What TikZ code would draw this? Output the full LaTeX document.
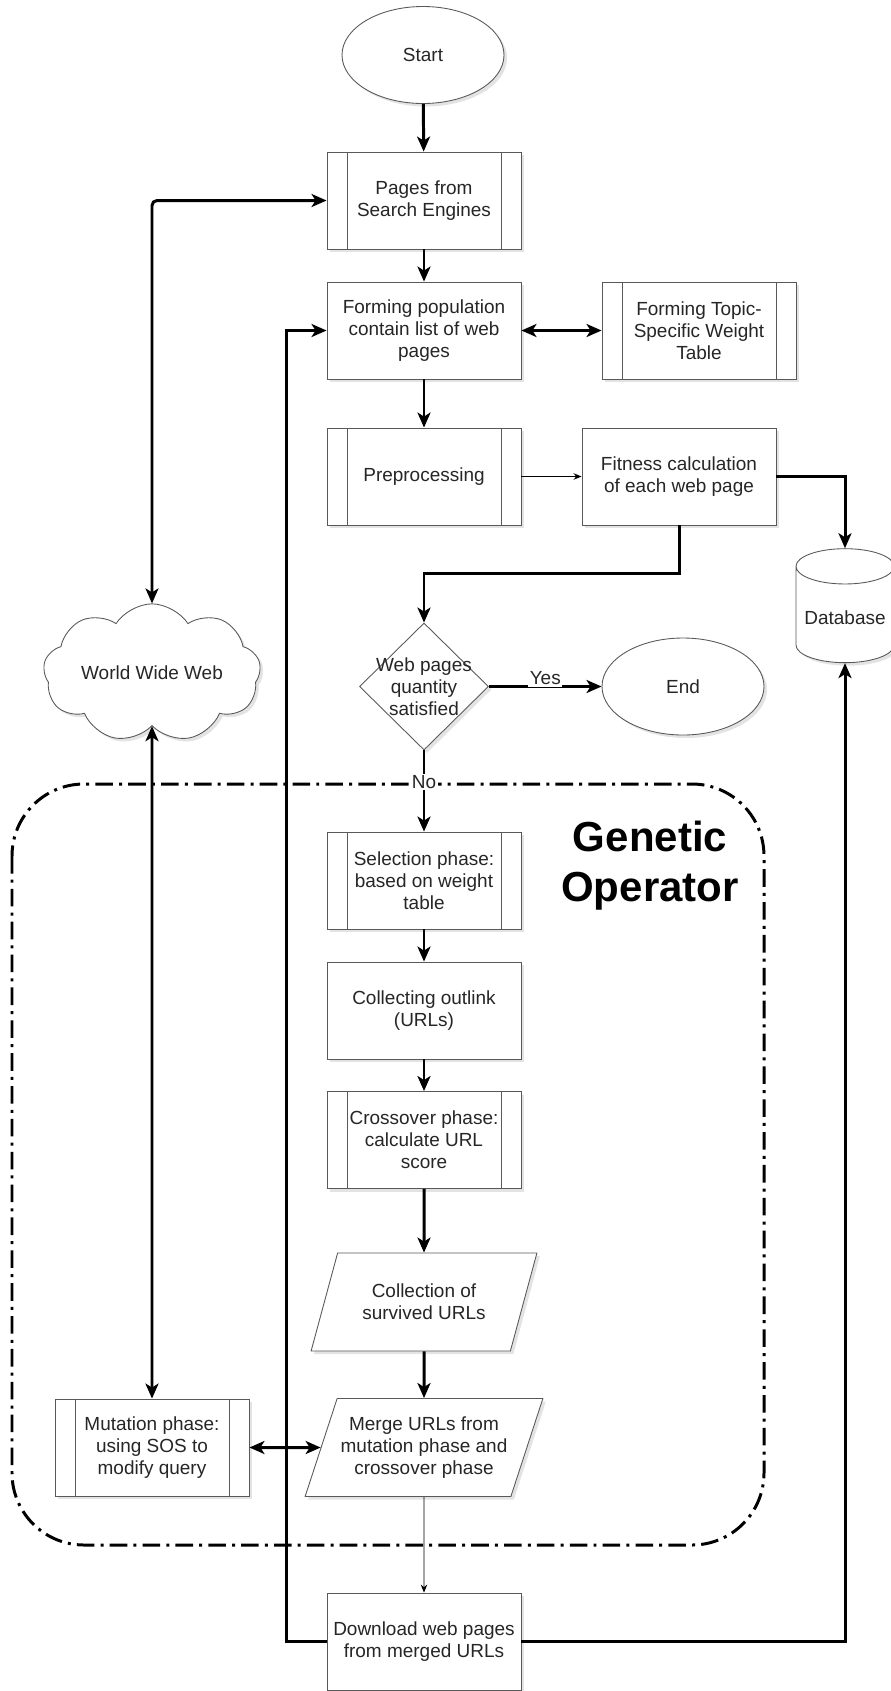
\documentclass[tikz,border=0pt]{standalone}
\usepackage{fontspec}
\setmainfont{Liberation Sans}
\usetikzlibrary{positioning,arrows.meta,shapes.geometric,shapes.symbols,shadows}

\begin{document}
\begin{tikzpicture}[
  font=\fontsize{10.8}{12.5}\selectfont,
  text=black!85,
  >={Stealth[length=0.3cm,width=0.26cm,inset=0.08cm]},
  box/.style={rectangle, draw=black!65, line width=0.5pt, fill=white, align=center,
              minimum width=3.88cm, minimum height=1.94cm, inner sep=2pt,
              drop shadow={shadow xshift=0.06cm, shadow yshift=-0.06cm, opacity=0.22}},
  sub/.style={box, path picture={
      \draw[draw=black!65, line width=0.5pt]
        ([xshift=0.4cm]path picture bounding box.north west) -- ([xshift=0.4cm]path picture bounding box.south west)
        ([xshift=-0.4cm]path picture bounding box.north east) -- ([xshift=-0.4cm]path picture bounding box.south east);}},
  term/.style={box, ellipse, minimum width=3.24cm, minimum height=1.94cm},
  io/.style={box, trapezium, trapezium left angle=65, trapezium right angle=115,
             trapezium stretches=true, minimum width=4.52cm, minimum height=1.96cm},
  dec/.style={box, diamond, minimum width=2.58cm, minimum height=2.54cm, inner sep=0pt},
  db/.style={box, cylinder, shape border rotate=90, aspect=0.4,
             minimum width=1.96cm, minimum height=2.28cm},
  web/.style={box, cloud, cloud puffs=9, cloud puff arc=115, aspect=2,
              minimum width=4.3cm, minimum height=1.95cm},
  flow/.style={->, line width=1.7pt},
  both/.style={<->, line width=1.7pt},
  thin/.style={-{Stealth[length=0.16cm,width=0.13cm]}, line width=0.5pt},
  group/.style={line width=1.7pt, rounded corners=1.44cm,
                dash pattern=on 10pt off 3.5pt on 1.7pt off 3.5pt}
]
\useasboundingbox (0,0) rectangle (17.8,-33.82);

% main column
\node[term] (start) at (8.46,-1.10) {Start};
\node[sub]  (pages) at (8.48,-4.01) {Pages from\\Search Engines};
\node[box]  (pop)   at (8.48,-6.61) {Forming population\\contain list of web\\pages};
\node[sub]  (topic) at (13.98,-6.61) {Forming Topic-\\Specific Weight\\Table};
\node[sub]  (prep)  at (8.48,-9.53) {Preprocessing};
\node[box]  (fit)   at (13.58,-9.53) {Fitness calculation\\of each web page};
\node[db]   (base)  at (16.9,-12.36) {Database};
\node[dec, label={[align=center]center:Web pages\\quantity\\satisfied}] (enough) at (8.48,-13.73) {};
\node[term] (end)   at (13.66,-13.73) {End};
\node[web]  (www)   at (3.04,-13.46) {World Wide Web};

% genetic operator block
\draw[group] (0.24,-15.68) rectangle (15.28,-30.9);
\node[font=\fontsize{23.9}{28.5}\selectfont\bfseries, align=center, text=black] (gen) at (13.0,-17.32) {Genetic\\Operator};

\node[sub] (sel)   at (8.48,-17.61) {Selection phase:\\based on weight\\table};
\node[box] (outl)  at (8.48,-20.21) {Collecting outlink\\(URLs)};
\node[sub] (cross) at (8.48,-22.80) {Crossover phase:\\calculate URL\\score};
\node[io]  (surv)  at (8.48,-26.04) {Collection of\\survived URLs};
\node[io]  (merge) at (8.48,-28.95) {Merge URLs from\\mutation phase and\\crossover phase};
\node[sub] (mut)   at (3.04,-28.95) {Mutation phase:\\using SOS to\\modify query};
\node[box] (down)  at (8.48,-32.83) {Download web pages\\from merged URLs};

% connectors
\draw[flow] (start) -- (pages);
\draw[flow] (pages) -- (pop);
\draw[both] (pop) -- (topic);
\draw[flow] (pop) -- (prep);
\draw[thin] (prep) -- (fit);
\draw[flow] (fit.east) -| (base.north);
\draw[flow] (fit.south) -- ++(0,-0.96) -| (enough.north);
\draw[flow] (enough) -- node[fill=white, inner sep=1pt, yshift=0.16cm] {Yes} (end);
\draw[flow] (enough) -- node[pos=0.39, fill=white, inner sep=1pt] {No} (sel);
\draw[flow] (sel) -- (outl);
\draw[flow] (outl) -- (cross);
\draw[flow] (cross) -- (surv);
\draw[flow] (surv) -- (merge);
\draw[both] (mut) -- (merge);
\draw[thin] (merge) -- (down);
\draw[flow] (down.west) -- ++(-0.8,0) |- (pop.west);
\draw[flow] (down.east) -| (base.south);
\draw[both, rounded corners=0.1cm] (www.north) |- (pages.west);
\draw[both] (mut.north) -- (www.south);
\end{tikzpicture}
\end{document}
